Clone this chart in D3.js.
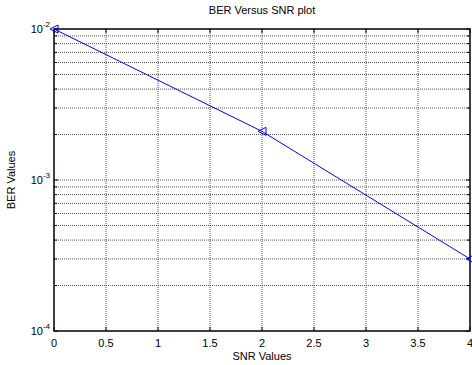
<!DOCTYPE html>
<html>
<head>
<meta charset="utf-8">
<script src="https://cdn.jsdelivr.net/npm/d3@7"></script>
<style>
  body { margin: 0; background: #fff; }
  svg { font-family: "Liberation Sans", Arial, sans-serif; }
</style>
</head>
<body>
<svg width="472" height="365"></svg>
<script>
// data
var snr = [0, 2, 4];
var ber = [0.01, 0.0021, 0.0003];
var xTicks = [0, 0.5, 1, 1.5, 2, 2.5, 3, 3.5, 4];
var yDecades = [-4, -3, -2];

var svg = d3.select('svg');
var margin = {top: 29, right: 2, bottom: 34, left: 54};
var width = 472 - margin.left - margin.right;
var height = 365 - margin.top - margin.bottom;

var g = svg.append('g')
    .attr('transform', 'translate(' + margin.left + ',' + margin.top + ')');

var x = d3.scaleLinear().domain([0, 4]).range([0, width]);
var y = d3.scaleLog().domain([1e-4, 1e-2]).range([height, 0]);

// minor log ticks
var minor = [];
[1e-4, 1e-3].forEach(function(b) {
    for (var k = 2; k <= 9; k++) minor.push(b * k);
});
var major = yDecades.map(function(e) { return Math.pow(10, e); });

// grid
g.selectAll('.vgrid').data(xTicks.slice(1, -1)).enter().append('line')
    .attr('x1', function(d) { return x(d); }).attr('x2', function(d) { return x(d); })
    .attr('y1', 0).attr('y2', height)
    .attr('stroke', '#555').attr('stroke-dasharray', '1,1');
g.selectAll('.hgrid').data(minor.concat(major.slice(1, -1))).enter().append('line')
    .attr('x1', 0).attr('x2', width)
    .attr('y1', function(d) { return y(d); }).attr('y2', function(d) { return y(d); })
    .attr('stroke', '#555').attr('stroke-dasharray', '1,1');

// ticks (inward, all four sides)
function ticks(sel, data, len, horiz) {
    sel.selectAll(null).data(data).enter().append('line')
        .attr('x1', function(d) { return horiz ? x(d) : 0; })
        .attr('x2', function(d) { return horiz ? x(d) : len; })
        .attr('y1', function(d) { return horiz ? height : y(d); })
        .attr('y2', function(d) { return horiz ? height - len : y(d); })
        .attr('stroke', '#000');
    sel.selectAll(null).data(data).enter().append('line')
        .attr('x1', function(d) { return horiz ? x(d) : width; })
        .attr('x2', function(d) { return horiz ? x(d) : width - len; })
        .attr('y1', function(d) { return horiz ? 0 : y(d); })
        .attr('y2', function(d) { return horiz ? len : y(d); })
        .attr('stroke', '#000');
}
var tg = g.append('g');
ticks(tg, xTicks, 4, true);
ticks(tg, major, 4, false);
ticks(tg, minor, 3, false);

// box
g.append('rect').attr('width', width).attr('height', height)
    .attr('fill', 'none').attr('stroke', '#000').attr('stroke-width', 1.5);

// x tick labels
g.selectAll('.xl').data(xTicks).enter().append('text')
    .attr('x', function(d) { return x(d); })
    .attr('y', height + 16)
    .attr('text-anchor', 'middle')
    .attr('font-size', 11)
    .text(function(d) { return d; });

// y tick labels 10^n
var yl = g.selectAll('.yl').data(yDecades).enter().append('text')
    .attr('x', -4)
    .attr('y', function(d) { return y(Math.pow(10, d)) + 4; })
    .attr('text-anchor', 'end')
    .attr('font-size', 11);
yl.append('tspan').text('10');
yl.append('tspan').attr('dy', -6).attr('font-size', 8).text(function(d) { return d; });

// line
var line = d3.line()
    .x(function(d, i) { return x(snr[i]); })
    .y(function(d) { return y(d); });
g.append('path').datum(ber)
    .attr('d', line)
    .attr('fill', 'none')
    .attr('stroke', '#0000ff')
    .attr('stroke-width', 1);

// left-pointing triangle markers
g.selectAll('.m').data(ber).enter().append('path')
    .attr('d', 'M-4,0L4,-4L4,4Z')
    .attr('transform', function(d, i) { return 'translate(' + x(snr[i]) + ',' + y(d) + ')'; })
    .attr('fill', 'none')
    .attr('stroke', '#0000ff')
    .attr('stroke-width', 1);

// labels
svg.append('text').attr('x', margin.left + width / 2).attr('y', 14)
    .attr('text-anchor', 'middle').attr('font-size', 11).text('BER Versus SNR plot');
svg.append('text').attr('x', margin.left + width / 2).attr('y', 360)
    .attr('text-anchor', 'middle').attr('font-size', 11).text('SNR Values');
svg.append('text')
    .attr('transform', 'translate(15,' + (margin.top + height / 2) + ') rotate(-90)')
    .attr('text-anchor', 'middle').attr('font-size', 11).text('BER Values');
</script>
</body>
</html>
